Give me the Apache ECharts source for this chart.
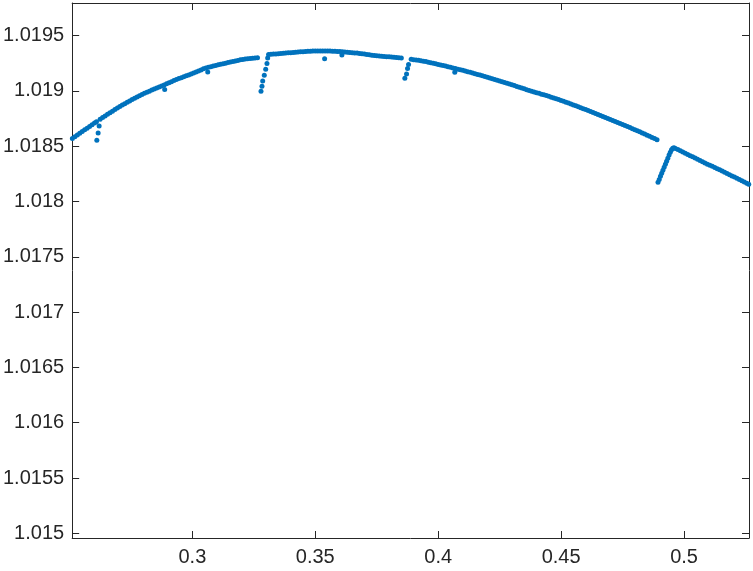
<!DOCTYPE html>
<html>
<head>
<meta charset="utf-8">
<script src="https://cdn.jsdelivr.net/npm/echarts@6/dist/echarts.min.js"></script>
<style>html,body{margin:0;padding:0;background:#fff}#c{width:753px;height:571px}</style>
</head>
<body>
<div id="c"></div>
<script>
// x-axis range and y-axis range
const xRange = [0.25112, 0.52641];
const yRange = [1.014958, 1.019795];

// Segment before first jump
const segA = [[0.2512,1.018570],[0.2522,1.018585],[0.2532,1.018601],[0.2542,1.018617],[0.2552,1.018633],[0.2562,1.018648],[0.2572,1.018663],[0.2582,1.018679],[0.2592,1.018694],[0.2602,1.018709],[0.2610,1.018722]];
const dropA = [[0.26115,1.018553],[0.26168,1.018619],[0.26209,1.018683]];
const segB = [[0.2625,1.018744],[0.2635,1.018759],[0.2645,1.018774],[0.2655,1.018789],[0.2665,1.018803],[0.2675,1.018817],[0.2685,1.018831],[0.2695,1.018845],[0.2705,1.018859],[0.2715,1.018872],[0.2725,1.018885],[0.2735,1.018898],[0.2745,1.018910],[0.2755,1.018922],[0.2765,1.018933],[0.2775,1.018945],[0.2785,1.018956],[0.2795,1.018967],[0.2805,1.018978],[0.2815,1.018988],[0.2825,1.018998],[0.2835,1.019008],[0.2845,1.019018],[0.2855,1.019027],[0.2865,1.019036],[0.2875,1.019045],[0.2885,1.019054],[0.2895,1.019064],[0.2905,1.019074],[0.2915,1.019084],[0.2925,1.019094],[0.2935,1.019104],[0.2945,1.019112],[0.2955,1.019120],[0.2965,1.019129],[0.2975,1.019137],[0.2985,1.019145],[0.2995,1.019154],[0.3005,1.019163],[0.3015,1.019172],[0.3025,1.019180],[0.3035,1.019189],[0.3045,1.019200],[0.3055,1.019207],[0.3065,1.019213],[0.3075,1.019219],[0.3085,1.019225],[0.3095,1.019230],[0.3105,1.019236],[0.3115,1.019241],[0.3125,1.019246],[0.3135,1.019251],[0.3145,1.019256],[0.3155,1.019261],[0.3165,1.019266],[0.3175,1.019271],[0.3185,1.019276],[0.3195,1.019281],[0.3205,1.019285],[0.3215,1.019288],[0.3225,1.019291],[0.3235,1.019294],[0.3245,1.019296],[0.3255,1.019298],[0.3265,1.019300]];
const dropB = [[0.32792,1.018996],[0.32832,1.019042],[0.32861,1.019089],[0.32926,1.019141],[0.32983,1.019195],[0.33035,1.019247],[0.33064,1.019297]];
const segC = [[0.3310,1.019329],[0.3320,1.019331],[0.3330,1.019333],[0.3340,1.019335],[0.3350,1.019337],[0.3360,1.019339],[0.3370,1.019341],[0.3380,1.019343],[0.3390,1.019345],[0.3400,1.019346],[0.3410,1.019348],[0.3420,1.019350],[0.3430,1.019352],[0.3440,1.019354],[0.3450,1.019355],[0.3460,1.019357],[0.3470,1.019358],[0.3480,1.019359],[0.3490,1.019360],[0.3500,1.019361],[0.3510,1.019361],[0.3520,1.019362],[0.3530,1.019362],[0.3540,1.019362],[0.3550,1.019361],[0.3560,1.019360],[0.3570,1.019359],[0.3580,1.019358],[0.3590,1.019357],[0.3600,1.019356],[0.3610,1.019354],[0.3620,1.019352],[0.3630,1.019350],[0.3640,1.019348],[0.3650,1.019346],[0.3660,1.019344],[0.3670,1.019342],[0.3680,1.019339],[0.3690,1.019336],[0.3700,1.019333],[0.3710,1.019330],[0.3720,1.019327],[0.3730,1.019323],[0.3740,1.019320],[0.3750,1.019317],[0.3760,1.019315],[0.3770,1.019313],[0.3780,1.019311],[0.3790,1.019310],[0.3800,1.019308],[0.3810,1.019306],[0.3820,1.019304],[0.3830,1.019302],[0.3840,1.019300],[0.3850,1.019298]];
const dropC = [[0.38643,1.019114],[0.38712,1.019153],[0.38753,1.019202],[0.38793,1.019240]];
const segD = [[0.3890,1.019286],[0.3900,1.019283],[0.3910,1.019280],[0.3920,1.019277],[0.3930,1.019273],[0.3940,1.019269],[0.3950,1.019265],[0.3960,1.019260],[0.3970,1.019255],[0.3980,1.019250],[0.3990,1.019245],[0.4000,1.019240],[0.4010,1.019235],[0.4020,1.019230],[0.4030,1.019225],[0.4040,1.019219],[0.4050,1.019214],[0.4060,1.019208],[0.4070,1.019203],[0.4080,1.019197],[0.4090,1.019192],[0.4100,1.019186],[0.4110,1.019180],[0.4120,1.019174],[0.4130,1.019168],[0.4140,1.019162],[0.4150,1.019156],[0.4160,1.019149],[0.4170,1.019143],[0.4180,1.019137],[0.4190,1.019130],[0.4200,1.019124],[0.4210,1.019117],[0.4220,1.019110],[0.4230,1.019104],[0.4240,1.019097],[0.4250,1.019090],[0.4260,1.019083],[0.4270,1.019076],[0.4280,1.019069],[0.4290,1.019062],[0.4300,1.019055],[0.4310,1.019048],[0.4320,1.019041],[0.4330,1.019034],[0.4340,1.019026],[0.4350,1.019019],[0.4360,1.019011],[0.4370,1.019004],[0.4380,1.018997],[0.4390,1.018991],[0.4400,1.018984],[0.4410,1.018978],[0.4420,1.018971],[0.4430,1.018965],[0.4440,1.018958],[0.4450,1.018951],[0.4460,1.018944],[0.4470,1.018937],[0.4480,1.018930],[0.4490,1.018922],[0.4500,1.018914],[0.4510,1.018906],[0.4520,1.018898],[0.4530,1.018890],[0.4540,1.018882],[0.4550,1.018873],[0.4560,1.018865],[0.4570,1.018857],[0.4580,1.018848],[0.4590,1.018840],[0.4600,1.018831],[0.4610,1.018822],[0.4620,1.018813],[0.4630,1.018804],[0.4640,1.018795],[0.4650,1.018786],[0.4660,1.018777],[0.4670,1.018768],[0.4680,1.018759],[0.4690,1.018750],[0.4700,1.018741],[0.4710,1.018732],[0.4720,1.018723],[0.4730,1.018714],[0.4740,1.018705],[0.4750,1.018696],[0.4760,1.018687],[0.4770,1.018678],[0.4780,1.018669],[0.4790,1.018659],[0.4800,1.018650],[0.4810,1.018640],[0.4820,1.018630],[0.4830,1.018620],[0.4840,1.018610],[0.4850,1.018600],[0.4860,1.018590],[0.4870,1.018580],[0.4880,1.018569],[0.4890,1.018558]];
const riseE = [[0.4894,1.018175],[0.4899,1.018200],[0.4904,1.018228],[0.4909,1.018255],[0.4914,1.018283],[0.4919,1.018310],[0.4924,1.018337],[0.4929,1.018364],[0.4934,1.018392],[0.4939,1.018420],[0.4944,1.018446],[0.4949,1.018468],[0.4954,1.018481],[0.4959,1.018486]];
const segF = [[0.4965,1.018480],[0.4975,1.018470],[0.4985,1.018459],[0.4995,1.018448],[0.5005,1.018437],[0.5015,1.018426],[0.5025,1.018415],[0.5035,1.018404],[0.5045,1.018393],[0.5055,1.018382],[0.5065,1.018371],[0.5075,1.018360],[0.5085,1.018349],[0.5095,1.018338],[0.5105,1.018328],[0.5115,1.018318],[0.5125,1.018307],[0.5135,1.018297],[0.5145,1.018287],[0.5155,1.018276],[0.5165,1.018265],[0.5175,1.018254],[0.5185,1.018243],[0.5195,1.018232],[0.5205,1.018221],[0.5215,1.018210],[0.5225,1.018199],[0.5235,1.018188],[0.5245,1.018177],[0.5255,1.018166],[0.5263,1.018157]];
const outliers = [[0.28875,1.019012],[0.30626,1.019171],[0.35380,1.019292],[0.36083,1.019325],[0.40675,1.019168]];

const allPoints = [].concat(segA, dropA, segB, dropB, segC, dropC, segD, riseE, segF, outliers);

const axisColor = '#262626';
const font = 'Liberation Sans, Arial, Helvetica, sans-serif';

function xAxisCfg(pos, showLabels) {
  return {
    type: 'value', position: pos, min: xRange[0], max: xRange[1], splitNumber: 5,
    axisLine: { show: true, onZero: false, lineStyle: { color: axisColor, width: 1 } },
    axisTick: { show: true, inside: true, length: 7, lineStyle: { color: axisColor } },
    axisLabel: { show: showLabels, showMinLabel: false, showMaxLabel: false, margin: 9, color: axisColor, fontSize: 20, fontFamily: font },
    splitLine: { show: false }
  };
}
function yAxisCfg(pos, showLabels) {
  return {
    type: 'value', position: pos, min: yRange[0], max: yRange[1], splitNumber: 10,
    axisLine: { show: true, onZero: false, lineStyle: { color: axisColor, width: 1 } },
    axisTick: { show: true, inside: true, length: 7, lineStyle: { color: axisColor } },
    axisLabel: { show: showLabels, showMinLabel: false, showMaxLabel: false, margin: 8, color: axisColor, fontSize: 20, fontFamily: font },
    splitLine: { show: false }
  };
}

const chart = echarts.init(document.getElementById('c'), null, { renderer: 'canvas' });
chart.setOption({
  animation: false,
  backgroundColor: '#ffffff',
  grid: { left: 71, right: 4, top: 3, bottom: 33, containLabel: false },
  xAxis: [xAxisCfg('bottom', true), xAxisCfg('top', false)],
  yAxis: [yAxisCfg('left', true), yAxisCfg('right', false)],
  series: [{
    type: 'scatter', xAxisIndex: 0, yAxisIndex: 0,
    data: allPoints, symbol: 'circle', symbolSize: 5,
    itemStyle: { color: '#0072BD', opacity: 1 }
  }]
});
</script>
</body>
</html>
